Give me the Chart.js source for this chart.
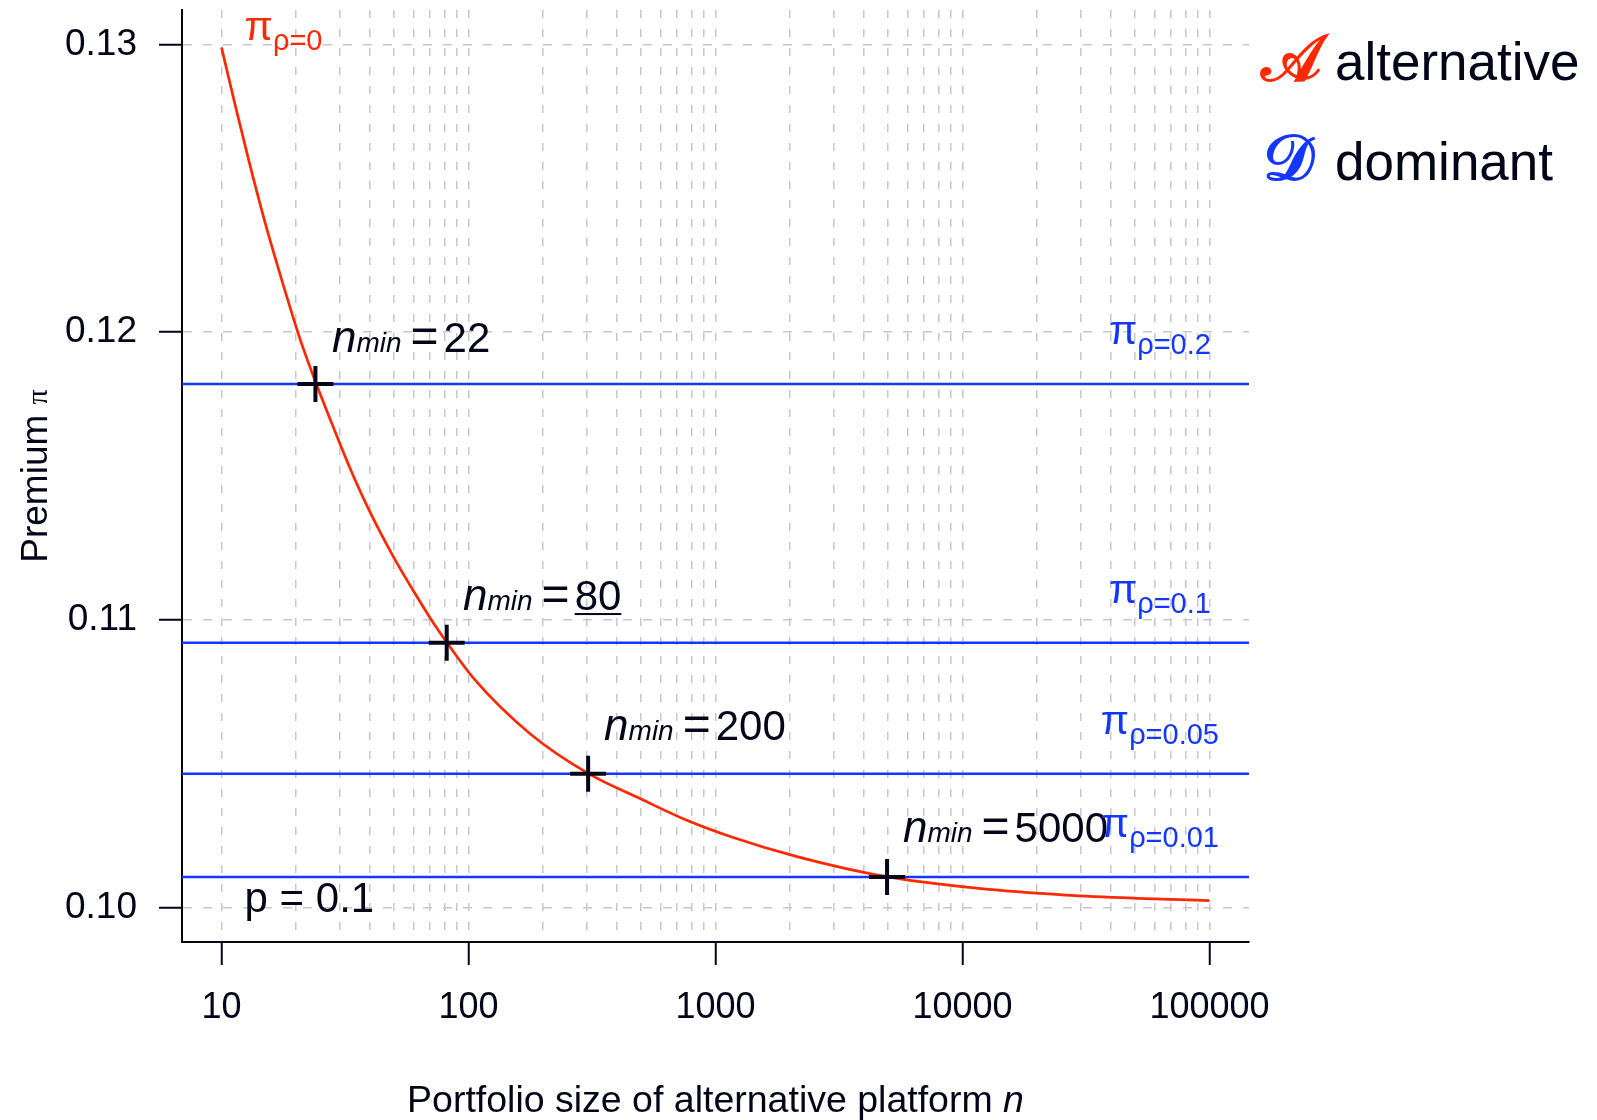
<!DOCTYPE html>
<html>
<head>
<meta charset="utf-8">
<title>Premium vs portfolio size</title>
<script src="https://cdn.jsdelivr.net/npm/chart.js@4.4.1/dist/chart.umd.min.js"></script>
<style>
  html, body { margin: 0; padding: 0; background: #fff; }
  #wrap { width: 1597px; height: 1120px; }
</style>
</head>
<body>
<div id="wrap"><canvas id="chart" width="1597" height="1120"></canvas></div>
<script>
/* Minimum portfolio size of the alternative platform — premium curve vs dominant platform levels */

// ─── Data ─────────────────────────────────────────────────────────────────────

// alternative platform premium (red curve)
const curveN = [10, 11.5, 13, 15.2, 17.8, 20.8, 24.1, 27.9, 33.1, 39.9, 49.6, 61.7, 72, 81.6,
                106, 177, 305, 502, 761, 1154, 2156, 4914, 11380, 26160, 55000, 100000];
const curveP = [0.1299, 0.1277, 0.12585, 0.12364, 0.12163, 0.11976, 0.11824, 0.11685, 0.11528, 0.11375,
                0.1122, 0.11082, 0.1099, 0.10922, 0.10792, 0.10605, 0.10466, 0.10376, 0.10304, 0.10246,
                0.10176, 0.10107, 0.10067, 0.10043, 0.10031, 0.10024];

// dominant platform premium for each rho (blue lines)
const dominantRho = ['0.2', '0.1', '0.05', '0.01'];
const dominantP   = [0.1182, 0.1092, 0.10465, 0.10106];

// crossing markers and their n_min labels
const crossN     = [24, 81.6, 305, 4950];
const crossP     = [0.1182, 0.1092, 0.10465, 0.10106];
const nMinLabels = ['22', '80', '200', '5000'];

// axis ticks
const xTickValues = [10, 100, 1000, 10000, 100000];
const yTickValues = [0.10, 0.11, 0.12, 0.13];

// annotation anchors, in data units
const nMinAtN  = [28.0, 95.0, 354, 5740];
const nMinAtP  = [0.11931, 0.11034, 0.10582, 0.10228];
const rhoAtN   = 63000;
const rhoAtP   = [0.11959, 0.11057, 0.10603, 0.10245];
const rho0At   = { n: 12.4, p: 0.13016 };
const pNoteAt  = { n: 12.4, p: 0.09984 };

// ─── Styles ───────────────────────────────────────────────────────────────────

const SANS  = '"Liberation Sans", Arial, Helvetica, sans-serif';
const SERIF = '"Liberation Serif", "Times New Roman", serif';
const INK   = '#05051a';
const RED   = '#ff2800';
const BLUE  = '#1437ff';
const GRID  = '#c8c8c8';

const X_MIN = Math.pow(10, 0.84);
const X_MAX = Math.pow(10, 5.16);

// minor grid: 1..9 x each decade
const xGridValues = [];
for (let d = 10; d <= 10000; d *= 10) {
  for (let k = 1; k <= 9; k++) xGridValues.push(k * d);
}
xGridValues.push(100000);

// ─── Text helper ──────────────────────────────────────────────────────────────

function drawRuns(ctx, runs, x, y, align) {
  let total = 0;
  runs.forEach(r => {
    ctx.font = r.font;
    r.w = ctx.measureText(r.text).width;
    total += r.w + (r.gap || 0);
  });
  let cx = align === 'center' ? x - total / 2 : x;
  ctx.textAlign = 'left';
  ctx.textBaseline = 'alphabetic';
  runs.forEach(r => {
    cx += r.gap || 0;
    ctx.font = r.font;
    ctx.fillStyle = r.color;
    ctx.fillText(r.text, cx, y + (r.dy || 0));
    if (r.underline) {
      ctx.fillRect(cx, y + 3, r.w, 2);
    }
    cx += r.w;
  });
}

function nMinRuns(value, underline) {
  return [
    { text: 'n',   font: `italic 44px ${SANS}`, color: INK },
    { text: 'min', font: `italic 28px ${SANS}`, color: INK },
    { text: '=',   font: `48px ${SANS}`, color: INK, gap: 9 },
    { text: value, font: `42px ${SANS}`, color: INK, gap: 5, underline },
  ];
}

function piRuns(sub, color) {
  return [
    { text: 'π', font: `41px ${SANS}`, color },
    { text: 'ρ=' + sub, font: `29px ${SANS}`, color, dy: 10 },
  ];
}

// ─── Annotation plugin ────────────────────────────────────────────────────────

const annotations = {
  id: 'annotations',
  afterDatasetsDraw(chart) {
    const { ctx, scales: { x, y } } = chart;
    ctx.save();

    nMinLabels.forEach((v, i) => {
      drawRuns(ctx, nMinRuns(v, v === '80'), x.getPixelForValue(nMinAtN[i]), y.getPixelForValue(nMinAtP[i]), 'left');
    });

    dominantRho.forEach((r, i) => {
      drawRuns(ctx, piRuns(r, BLUE), x.getPixelForValue(rhoAtN), y.getPixelForValue(rhoAtP[i]), 'center');
    });

    drawRuns(ctx, piRuns('0', RED), x.getPixelForValue(rho0At.n), y.getPixelForValue(rho0At.p), 'left');

    ctx.font = `42px ${SANS}`;
    ctx.fillStyle = INK;
    ctx.textAlign = 'left';
    ctx.fillText('p = 0.1', x.getPixelForValue(pNoteAt.n), y.getPixelForValue(pNoteAt.p));

    ctx.restore();
  },
  afterDraw(chart) {
    const { ctx, chartArea } = chart;
    ctx.save();

    // legend at the right: glyph, then the word at a fixed column
    const gx = chartArea.right + 12;
    const tx = chartArea.right + 86;
    ctx.textAlign = 'left';
    ctx.textBaseline = 'alphabetic';
    ctx.font = `bold 64px ${SERIF}`;
    ctx.fillStyle = RED;
    ctx.fillText('𝒜', gx, 80);
    ctx.fillStyle = BLUE;
    ctx.fillText('𝒟', gx + 2, 180);
    ctx.font = `53px ${SANS}`;
    ctx.fillStyle = INK;
    ctx.fillText('alternative', tx, 80);
    ctx.fillText('dominant', tx, 180);

    // x axis title
    drawRuns(ctx, [
      { text: 'Portfolio size of alternative platform ', font: `37.5px ${SANS}`, color: INK },
      { text: 'n', font: `italic 37.5px ${SANS}`, color: INK },
    ], (chartArea.left + chartArea.right) / 2, 1112, 'center');

    // y axis title
    ctx.translate(47, (chartArea.top + chartArea.bottom) / 2);
    ctx.rotate(-Math.PI / 2);
    drawRuns(ctx, [
      { text: 'Premium ', font: `37px ${SANS}`, color: INK },
      { text: 'π', font: `30px ${SERIF}`, color: INK },
    ], 0, 0, 'center');

    ctx.restore();
  },
};

// ─── Chart ────────────────────────────────────────────────────────────────────

const dominantSets = dominantP.map((p, i) => ({
  label: 'dominant ρ=' + dominantRho[i],
  data: [{ x: X_MIN, y: p }, { x: X_MAX, y: p }],
  showLine: true,
  borderColor: BLUE,
  borderWidth: 2.5,
  pointRadius: 0,
  order: 3,
}));

new Chart(document.getElementById('chart'), {
  type: 'scatter',
  data: {
    datasets: [
      ...dominantSets,
      {
        label: 'alternative',
        data: curveN.map((n, i) => ({ x: n, y: curveP[i] })),
        showLine: true,
        borderColor: RED,
        borderWidth: 2.7,
        pointRadius: 0,
        cubicInterpolationMode: 'monotone',
        order: 2,
      },
      {
        label: 'n_min',
        data: crossN.map((n, i) => ({ x: n, y: crossP[i] })),
        pointStyle: 'cross',
        pointRadius: 18,
        borderWidth: 4,
        pointBorderWidth: 4,
        borderColor: INK,
        pointBorderColor: INK,
        order: 1,
      },
    ],
  },
  options: {
    responsive: false,
    animation: false,
    devicePixelRatio: 1,
    layout: { autoPadding: false, padding: { top: 10, right: 348, left: 0, bottom: 0 } },
    plugins: { legend: { display: false }, tooltip: { enabled: false } },
    scales: {
      x: {
        type: 'logarithmic',
        min: X_MIN,
        max: X_MAX,
        afterBuildTicks: (scale) => { scale.ticks = xGridValues.map(v => ({ value: v })); },
        afterFit: (scale) => {
          scale.height = 178;
          scale.paddingLeft = 0;
          scale.paddingRight = 0;
        },
        ticks: {
          autoSkip: false, maxRotation: 0, minRotation: 0, padding: 21,
          color: INK, font: { family: SANS, size: 36 },
          callback: (v) => xTickValues.includes(v) ? String(v) : '',
        },
        grid: {
          color: GRID, lineWidth: 1.5,
          tickLength: 23, tickWidth: 2,
          tickColor: (c) => (c.tick && xTickValues.includes(c.tick.value)) ? INK : 'rgba(0,0,0,0)',
        },
        border: { display: true, color: INK, width: 2, dash: [8, 11] },
      },
      y: {
        type: 'linear',
        min: 0.0988,
        max: 0.1312,
        afterBuildTicks: (scale) => { scale.ticks = yTickValues.map(v => ({ value: v })); },
        afterFit: (scale) => {
          scale.width = 182;
          scale.paddingTop = 0;
          scale.paddingBottom = 0;
        },
        ticks: {
          padding: 22, color: INK, font: { family: SANS, size: 37 },
          callback: (v) => v.toFixed(2),
        },
        grid: { color: GRID, lineWidth: 1.5, tickLength: 23, tickWidth: 2, tickColor: INK },
        border: { display: true, color: INK, width: 2, dash: [9, 11] },
      },
    },
  },
  plugins: [annotations],
});
</script>
</body>
</html>
